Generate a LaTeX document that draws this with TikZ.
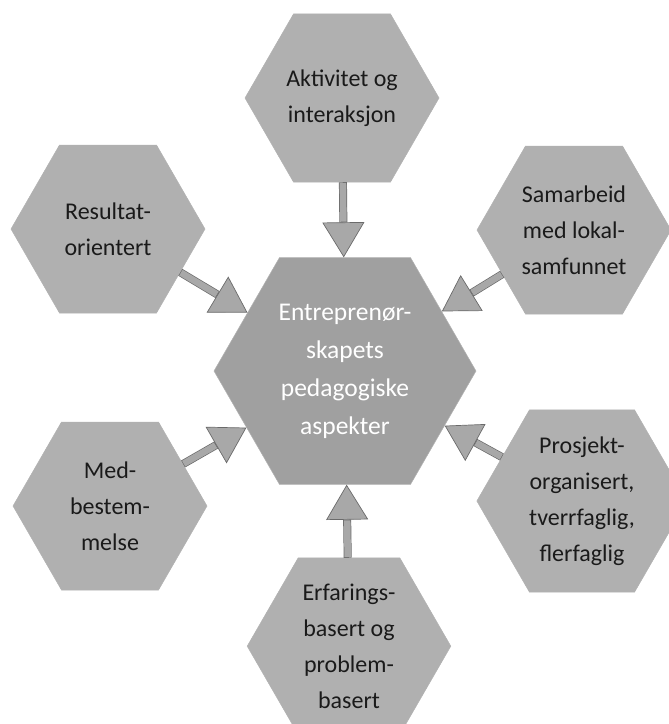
\documentclass[tikz,border=0pt]{standalone}
\usepackage{fontspec}
\setmainfont{Carlito}
\usetikzlibrary{positioning,arrows.meta,shapes.geometric}
\definecolor{hexG}{HTML}{B0B0B0}
\definecolor{hexM}{HTML}{A0A0A0}
\definecolor{arrG}{HTML}{A8A8A8}
\definecolor{arrL}{HTML}{6A6A6A}
\definecolor{txtD}{HTML}{1A1A1A}

\begin{document}
\begin{tikzpicture}[x=1pt, y=-1pt,
  every node/.style={font=\fontsize{24}{36}\selectfont},
  hexa/.style={regular polygon, regular polygon sides=6, minimum size=194pt,
               inner sep=0pt, fill=hexG, draw=black!30, line width=0.5pt,
               align=center, text=txtD},
  arr/.style={line width=8pt, arrL,
              -{Triangle[length=35pt, width=42pt, line width=0.7pt, fill=arrG]}},
  arrin/.style={line width=6.6pt, arrG, shorten >=35.6pt, shorten <=0.7pt}
]
  \useasboundingbox (0,0) rectangle (669,724);
  \node[hexa, fill=hexM, minimum size=262pt, text=white,
        font=\fontsize{25.5}{38}\selectfont] (mid) at (345,371)
        {Entreprenør-\\skapets\\pedagogiske\\aspekter};
  \node[hexa, above=75pt of mid, xshift=-3pt] (akt) {Aktivitet og\\interaksjon};
  \node[hexa, below=73pt of mid, xshift=4pt] (erf) {Erfarings-\\basert og\\problem-\\basert};
  \node[hexa] (res) at (108,229) {Resultat-\\orientert};
  \node[hexa] (sam) at (574,230) {Samarbeid\\med lokal-\\samfunnet};
  \node[hexa] (med) at (110,506) {Med-\\bestem-\\melse};
  \node[hexa] (pro) at (582,501) {Prosjekt-\\organisert,\\tverrfaglig,\\flerfaglig};
  % block arrows: outline first, then fill the shaft
  \draw[arr] (akt) -- (mid);
  \draw[arrin] (akt) -- (mid);
  \draw[arr] (res) -- (mid);
  \draw[arrin] (res) -- (mid);
  \draw[arr] (sam) -- (mid);
  \draw[arrin] (sam) -- (mid);
  \draw[arr] (med) -- (mid);
  \draw[arrin] (med) -- (mid);
  \draw[arr] (pro) -- (mid);
  \draw[arrin] (pro) -- (mid);
  \draw[arr] (erf) -- (mid);
  \draw[arrin] (erf) -- (mid);
\end{tikzpicture}
\end{document}
